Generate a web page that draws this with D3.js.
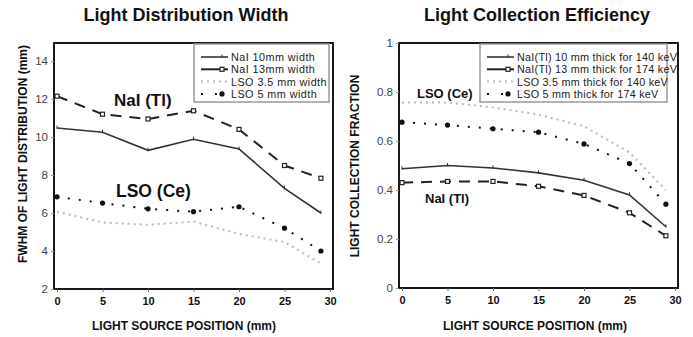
<!DOCTYPE html>
<html>
<head>
<meta charset="utf-8">
<script src="https://cdn.jsdelivr.net/npm/d3@7"></script>
<style>
  body { margin: 0; background: #fff; }
  svg { display: block; font-family: Arial, "Liberation Sans", sans-serif; }
</style>
</head>
<body>
<svg id="chart" width="693" height="337"></svg>
<script>
(function () {
'use strict';

// shared x positions (mm)
var positions = [0, 5, 10, 15, 20, 25, 29];
var xTicks = [0, 5, 10, 15, 20, 25, 30];

// left panel: FWHM of light distribution (mm)
var widthNaI10 = [10.47, 10.25, 9.3, 9.88, 9.37, 7.3, 6.0];
var widthNaI13 = [12.15, 11.2, 10.95, 11.38, 10.4, 8.5, 7.83];
var widthLSO35 = [6.07, 5.5, 5.38, 5.55, 4.9, 4.47, 3.35];
var widthLSO5 = [6.85, 6.52, 6.22, 6.07, 6.33, 5.2, 4.0];
var widthTicks = [2, 4, 6, 8, 10, 12, 14];
var widthLegend = ["NaI 10mm width", "NaI 13mm width", "LSO 3.5 mm width", "LSO 5 mm width"];

// right panel: light collection fraction
var effNaI10 = [0.487, 0.5, 0.49, 0.47, 0.44, 0.38, 0.25];
var effNaI13 = [0.43, 0.435, 0.435, 0.415, 0.378, 0.307, 0.213];
var effLSO35 = [0.757, 0.757, 0.737, 0.708, 0.66, 0.553, 0.40];
var effLSO5 = [0.677, 0.665, 0.65, 0.636, 0.588, 0.508, 0.342];
var effTicks = [0, 0.2, 0.4, 0.6, 0.8, 1];
var effLegend = ["NaI(Tl) 10 mm thick for 140 keV", "NaI(Tl) 13 mm thick for 174 keV",
                 "LSO 3.5 mm thick for 140 keV", "LSO 5 mm thick for 174 keV"];

var svg = d3.select("#chart");

// line styles per series (solid, dashed, light dotted, dark dotted)
var styles = [
    { stroke: "#333", width: 1.6, dash: null, marker: "tick" },
    { stroke: "#222", width: 2, dash: "11,8", marker: "square" },
    { stroke: "#bbb", width: 2, dash: "2,4", marker: null },
    { stroke: "#111", width: 2, dash: "2,9", marker: "dot" }
];

function drawMarker(g, type, x, y) {
    if (type === "tick") {
        g.append("line").attr("x1", x).attr("x2", x).attr("y1", y - 2.5).attr("y2", y + 1)
            .attr("stroke", "#333").attr("stroke-width", 1);
    } else if (type === "square") {
        g.append("rect").attr("x", x - 2).attr("y", y - 2).attr("width", 4).attr("height", 4)
            .attr("fill", "#fff").attr("stroke", "#222").attr("stroke-width", 1.2);
    } else if (type === "dot") {
        g.append("circle").attr("cx", x).attr("cy", y).attr("r", 2.6).attr("fill", "#111");
    }
}

function drawPanel(opt) {
    var x = d3.scaleLinear().domain([0, 30]).range([opt.x0, opt.x1]);
    var y = d3.scaleLinear().domain(opt.yDomain).range([opt.yBottom, opt.yTop]);
    var g = svg.append("g");

    // frame
    g.append("rect")
        .attr("x", opt.boxL).attr("y", opt.boxT)
        .attr("width", opt.boxR - opt.boxL).attr("height", opt.yBottom - opt.boxT)
        .attr("fill", "none").attr("stroke", "#000").attr("stroke-width", 1.8);

    // y axis
    var yAxis = g.append("g")
        .attr("transform", "translate(" + opt.boxL + ",0)")
        .call(d3.axisLeft(y).tickValues(opt.yTicks).tickSize(3).tickFormat(opt.yFormat));
    yAxis.select(".domain").remove();
    yAxis.selectAll("line").attr("stroke", "#999");
    yAxis.selectAll("text").attr("font-size", 11.5).attr("fill", "#444")
        .attr("font-family", "Arial, 'Liberation Sans', sans-serif");

    // x axis
    var xAxis = g.append("g")
        .attr("transform", "translate(0," + opt.yBottom + ")")
        .call(d3.axisBottom(x).tickValues(xTicks).tickSize(3));
    xAxis.select(".domain").remove();
    xAxis.selectAll("line").attr("stroke", "#666");
    xAxis.selectAll("text").attr("font-size", 11).attr("font-weight", "bold").attr("fill", "#111")
        .attr("dy", "0.9em")
        .attr("font-family", "Arial, 'Liberation Sans', sans-serif");

    // titles
    g.append("text").attr("x", opt.titleX).attr("y", 21).attr("text-anchor", "middle")
        .attr("font-size", 18).attr("font-weight", "bold").attr("fill", "#111").text(opt.title);
    g.append("text").attr("x", opt.titleX - 2).attr("y", 330).attr("text-anchor", "middle")
        .attr("font-size", 12).attr("font-weight", "bold").attr("fill", "#111")
        .text("LIGHT SOURCE POSITION (mm)");
    g.append("text")
        .attr("transform", "translate(" + opt.yLabelX + "," + opt.yLabelY + ") rotate(-90)")
        .attr("text-anchor", "middle").attr("font-size", 12).attr("font-weight", "bold")
        .attr("fill", "#111").text(opt.yLabel);

    // series
    var line = d3.line().x(function (d) { return x(d[0]); }).y(function (d) { return y(d[1]); });
    opt.series.forEach(function (vals, i) {
        var st = styles[i];
        var pts = positions.map(function (p, j) { return [p, vals[j]]; });
        g.append("path").datum(pts)
            .attr("d", line).attr("fill", "none")
            .attr("stroke", st.stroke).attr("stroke-width", st.width)
            .attr("stroke-dasharray", st.dash);
        if (st.marker) {
            pts.forEach(function (p) { drawMarker(g, st.marker, x(p[0]), y(p[1])); });
        }
    });

    // annotations
    opt.notes.forEach(function (n) {
        g.append("text").attr("x", n.x).attr("y", n.y).attr("font-size", n.size)
            .attr("font-weight", "bold").attr("fill", "#111").text(n.text);
    });

    // legend
    var lg = g.append("g");
    lg.append("rect").attr("x", opt.legX).attr("y", opt.boxT + 1).attr("width", opt.legW).attr("height", 58)
        .attr("fill", "#fff").attr("stroke", "#999").attr("stroke-width", 1.5);
    opt.legend.forEach(function (label, i) {
        var st = styles[i];
        var ly = opt.boxT + 14 + i * 12.3;
        lg.append("line").attr("x1", opt.legX + 7).attr("x2", opt.legX + 34)
            .attr("y1", ly).attr("y2", ly)
            .attr("stroke", st.stroke).attr("stroke-width", st.width)
            .attr("stroke-dasharray", i === 3 ? "2,12" : (i === 1 ? null : st.dash));
        if (st.marker) { drawMarker(lg, st.marker, opt.legX + 28, ly); }
        lg.append("text").attr("x", opt.legX + 37).attr("y", ly + 4)
            .attr("font-size", opt.legFont).attr("letter-spacing", opt.legSpacing)
            .attr("fill", "#222").text(label);
    });
}

drawPanel({
    x0: 57, x1: 330, boxL: 54, boxR: 333, boxT: 43, yBottom: 289, yTop: 42,
    yDomain: [2, 15], yTicks: widthTicks, yFormat: d3.format("d"),
    title: "Light Distribution Width", titleX: 186,
    yLabel: "FWHM OF LIGHT DISTRIBUTION (mm)", yLabelX: 27, yLabelY: 154,
    series: [widthNaI10, widthNaI13, widthLSO35, widthLSO5],
    notes: [{ text: "NaI (Tl)", x: 114, y: 106, size: 17 }, { text: "LSO (Ce)", x: 116, y: 197, size: 17.5 }],
    legend: widthLegend, legX: 194, legW: 135, legFont: 10.8, legSpacing: 0.45
});

drawPanel({
    x0: 402, x1: 675, boxL: 399, boxR: 678, boxT: 43, yBottom: 288, yTop: 43,
    yDomain: [0, 1], yTicks: effTicks, yFormat: function (d) { return d === 0 || d === 1 ? d : d3.format(".1f")(d); },
    title: "Light Collection Efficiency", titleX: 537,
    yLabel: "LIGHT COLLECTION FRACTION", yLabelX: 359, yLabelY: 166,
    series: [effNaI10, effNaI13, effLSO35, effLSO5],
    notes: [{ text: "LSO (Ce)", x: 417, y: 98, size: 13 }, { text: "NaI (Tl)", x: 425, y: 203, size: 13 }],
    legend: effLegend, legX: 480, legW: 187, legFont: 10.8, legSpacing: 0.25
});
})();
</script>
</body>
</html>
